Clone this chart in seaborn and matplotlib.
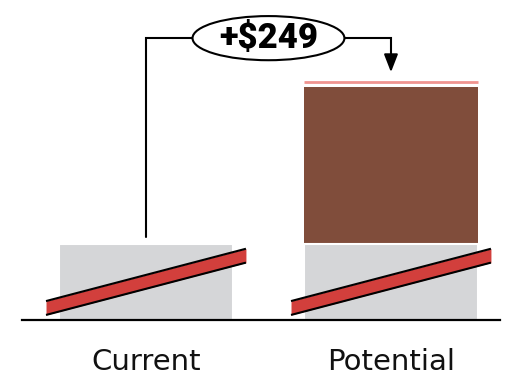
import matplotlib
matplotlib.use("Agg")
import matplotlib.pyplot as plt
import seaborn as sns
import pandas as pd
import numpy as np
from matplotlib.patches import Ellipse

categories = ["Current", "Potential"]
base_values = [120, 120]        # visual (broken-axis) base segment
increase_values = [0, 249]      # uplift
label_text = "+$249"

sns.set_theme(style="white")
plt.rcParams['font.family'] = ['DejaVu Sans']

fig = plt.figure(figsize=(5.07, 3.86), dpi=100)
ax = fig.add_axes([22/507, 66/386, 478/507, 320/386])

totals = [b + i for b, i in zip(base_values, increase_values)]
df_tot = pd.DataFrame({"cat": categories, "val": totals})
df_base = pd.DataFrame({"cat": categories, "val": base_values})

sns.barplot(data=df_tot, x="cat", y="val", color="#804d3b", saturation=1,
            width=0.71, ax=ax, zorder=1, linewidth=0)
sns.barplot(data=df_base, x="cat", y="val", color="#d5d6d8", saturation=1,
            width=0.71, ax=ax, zorder=2, edgecolor="white", linewidth=1.5)

ax.set_xlim(-0.506, 1.445)
ax.set_ylim(0, 507.5)

# pink top line on potential bar
pot_top = totals[1]
ax.hlines(pot_top + 8.5, 1 - 0.355, 1 + 0.355, color="#f09490", lw=2, zorder=3)

# axis-break stripes
for i in range(len(categories)):
    xs = np.array([i - 0.408, i + 0.408])
    yc = np.array([19, 102])
    half = 11
    ax.fill_between(xs, yc - half, yc + half, color="#d23f3c", lw=0, zorder=4)
    ax.plot(xs, yc - half, color="black", lw=1.5, zorder=5, solid_capstyle="butt")
    ax.plot(xs, yc + half, color="black", lw=1.5, zorder=5, solid_capstyle="butt")

# annotation connector
y_line = 447
start_y = totals[0] + 12
tip_y = pot_top + 24
ax.plot([0, 0, 1, 1], [start_y, y_line, y_line, tip_y + 20], color="black", lw=1.5, zorder=6,
        solid_joinstyle="miter")
ax.annotate("", xy=(1, tip_y), xytext=(1, tip_y + 24),
            arrowprops=dict(arrowstyle="-|>,head_length=0.9,head_width=0.35", color="black", lw=1.5,
                            shrinkA=0, shrinkB=0), zorder=7)
ell = Ellipse((0.5, y_line), width=0.62, height=70, facecolor="white", edgecolor="black",
              lw=1.5, zorder=8)
ax.add_patch(ell)
ax.text(0.5, y_line, label_text, ha="center", va="center", fontsize=25, fontweight="black",
        color="black", family=["Roboto", "DejaVu Sans"], zorder=9)

# axes styling
for s in ["top", "right", "left"]:
    ax.spines[s].set_visible(False)
ax.spines["bottom"].set_color("black")
ax.spines["bottom"].set_linewidth(1.6)
ax.spines["bottom"].set_zorder(10)
ax.set_yticks([])
ax.set_xlabel("")
ax.set_ylabel("")
ax.tick_params(axis="x", length=0, pad=20, labelsize=21, labelcolor="#111111")
for lab in ax.get_xticklabels():
    lab.set_fontweight("normal")

fig.savefig("out.png", dpi=100)
